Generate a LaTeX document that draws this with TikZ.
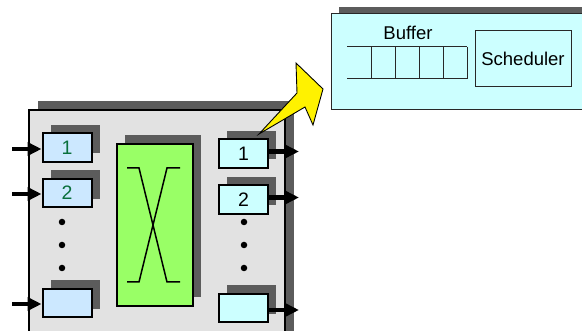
\documentclass[tikz,border=0pt]{standalone}
\usepackage{fontspec}
\setmainfont{Liberation Sans}
\usetikzlibrary{arrows.meta,shadows}
\definecolor{shade}{RGB}{92,92,92}
\definecolor{chassis}{RGB}{226,226,226}
\definecolor{inq}{RGB}{204,232,255}
\definecolor{outq}{RGB}{204,255,255}
\definecolor{inlabel}{RGB}{10,112,60}
\definecolor{fabric}{RGB}{153,255,102}
\definecolor{edge}{RGB}{40,40,40}
\tikzset{
  boxshadow/.style={drop shadow={shadow xshift=8pt,shadow yshift=8.5pt,fill=shade,opacity=1}},
  queue/.style={draw=black,line width=2pt,minimum width=49pt,minimum height=28.5pt,
    inner sep=0pt,boxshadow,font=\fontsize{19.5}{21}\selectfont},
  inqueue/.style={queue,fill=inq,text=inlabel},
  outqueue/.style={queue,fill=outq,text=black},
  flow/.style={line width=4.5pt,-{Triangle[length=14pt,width=13pt]}},
  dot/.style={circle,fill=black,inner sep=0pt,minimum size=6.5pt},
  label/.style={font=\fontsize{18.5}{20}\selectfont,inner sep=0pt}
}
\begin{document}
\begin{tikzpicture}[x=1pt,y=-1pt]
\useasboundingbox (0,0) rectangle (582,331);

% switch chassis (runs past the lower edge)
\node[draw=black,line width=2pt,fill=chassis,minimum width=256pt,minimum height=250pt,
  inner sep=0pt,drop shadow={shadow xshift=8.5pt,shadow yshift=9pt,fill=shade,opacity=1}]
  (chassis) at (157,235) {};

% input queues
\node[inqueue] (q1) at (67,147.5) {1};
\node[inqueue] (q2) at (67,193) {2};
\node[inqueue] (q3) at (67,303) {};
\node[dot] (qd1) at (62,222) {};
\node[dot] (qd2) at (62,245) {};
\node[dot] (qd3) at (62,268) {};

% switching fabric
\node[draw=black,line width=2pt,fill=fabric,minimum width=76pt,minimum height=162pt,
  inner sep=0pt,boxshadow] (xbar) at (155,225) {};
\draw[line width=1.5pt] (127,168) -- (139,168) -- (167,282) -- (180,282);
\draw[line width=1.5pt] (180,168) -- (167,168) -- (139,282) -- (127,282);

% output queues
\node[outqueue] (o1) at (243.5,153.5) {1};
\node[outqueue] (o2) at (243.5,199.5) {2};
\node[outqueue] (o3) at (243.5,308) {};
\node[dot] (od1) at (244,222) {};
\node[dot] (od2) at (244,245) {};
\node[dot] (od3) at (244,268) {};

% input and output links
\coordinate (i1) at (12,149);
\coordinate (i2) at (12,194);
\coordinate (i3) at (12,304);
\coordinate (e1) at (299,151.5);
\coordinate (e2) at (299,197.5);
\coordinate (e3) at (299,310);
\draw[flow] (i1) -- (q1.west |- i1);
\draw[flow] (i2) -- (q2.west |- i2);
\draw[flow] (i3) -- (q3.west |- i3);
\draw[flow] (o1.east |- e1) -- (e1);
\draw[flow] (o2.east |- e2) -- (e2);
\draw[flow] (o3.east |- e3) -- (e3);

% detail view of an output port
\node[draw=edge,line width=1pt,fill=outq,minimum width=269pt,minimum height=96pt,inner sep=0pt,
  drop shadow={shadow xshift=8pt,shadow yshift=7pt,fill=shade,opacity=1}]
  (port) at (465.5,62) {};
\node[label] (buflabel) at (408,33) {Buffer};
\draw[edge,line width=1pt] (347,47) -- (467,47) (347,79) -- (467,79);
\foreach \x in {371,395,419,443,467}
  \draw[edge,line width=1pt] (\x,47) -- (\x,79);
\node[draw=edge,line width=1pt,minimum width=96pt,minimum height=56pt,label,inner sep=0pt]
  (sched) at (523,59) {Scheduler};

% zoom callout
\draw[fill=yellow,line width=0.9pt,line join=miter]
  (259,134) -- (297,93) -- (296,63) -- (323,89) -- (313,125) -- (305,107) -- cycle;
\end{tikzpicture}
\end{document}
